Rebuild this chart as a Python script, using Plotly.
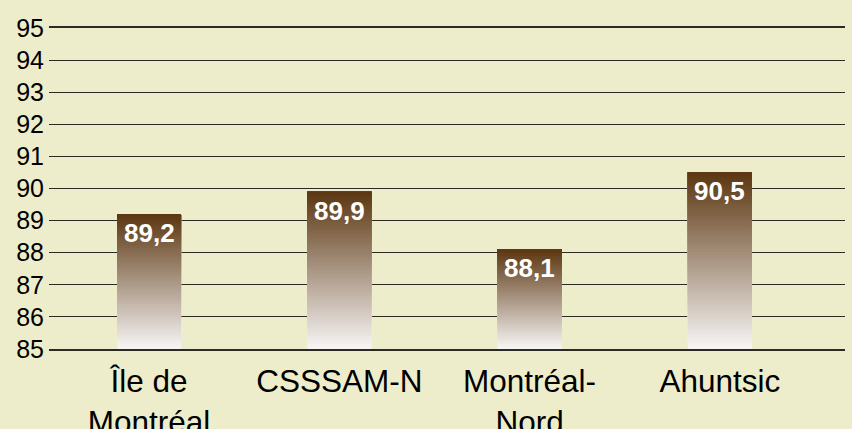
import plotly.graph_objects as go

categories = ["Île de<br>Montréal", "CSSSAM-N", "Montréal-<br>Nord", "Ahuntsic"]
values = [89.2, 89.9, 88.1, 90.5]
y_ticks = list(range(85, 96))
base_value = 85

BG = "#EEEDCB"
TOP = (91, 54, 17)
BOTTOM = (248, 246, 246)
GRID = "#2b2b24"
N_SLICES = 60

def mix(t):
    r = [round(BOTTOM[i] + (TOP[i] - BOTTOM[i]) * t) for i in range(3)]
    return f"rgb({r[0]},{r[1]},{r[2]})"

fig = go.Figure()
for k in range(N_SLICES):
    t = k / N_SLICES
    bases = [base_value + (v - base_value) * t for v in values]
    heights = [v - b for v, b in zip(values, bases)]
    fig.add_trace(go.Bar(
        x=categories, y=heights, base=bases,
        marker=dict(color=mix(t + 0.5 / N_SLICES), line=dict(width=0)),
        width=0.336, showlegend=False, hoverinfo="skip",
    ))

for c, v in zip(categories, values):
    fig.add_annotation(
        x=c, y=v, yanchor="top", yshift=-2, showarrow=False,
        text=f"{v:.1f}".replace(".", ","),
        font=dict(family="Liberation Sans, Arial, sans-serif", size=26, color="white", weight="bold"),
    )

fig.update_layout(
    width=852, height=429,
    margin=dict(l=49, r=7, t=28, b=80, autoexpand=False),
    paper_bgcolor=BG, plot_bgcolor=BG,
    barmode="overlay",
    font=dict(family="Liberation Sans, Arial, sans-serif", color="black"),
)
fig.update_xaxes(
    type="category", range=[-0.526, 3.658], showgrid=False, zeroline=False,
    showline=True, mirror=True, linecolor=GRID, linewidth=1.5,
    ticks="", ticklabelstandoff=3, automargin=False,
    tickfont=dict(size=31.5, color="black"),
)
fig.update_yaxes(
    range=[85, 95], tickvals=y_ticks, ticktext=[str(t) for t in y_ticks],
    showgrid=True, gridcolor=GRID, gridwidth=1.4, zeroline=False,
    showline=False, ticks="", ticklabelstandoff=4, automargin=False,
    tickfont=dict(size=25, color="black"),
)

fig.write_html(
    "out.html",
    config={"displayModeBar": False},
    post_script="document.body.style.margin='0';document.body.style.overflow='hidden';",
)
